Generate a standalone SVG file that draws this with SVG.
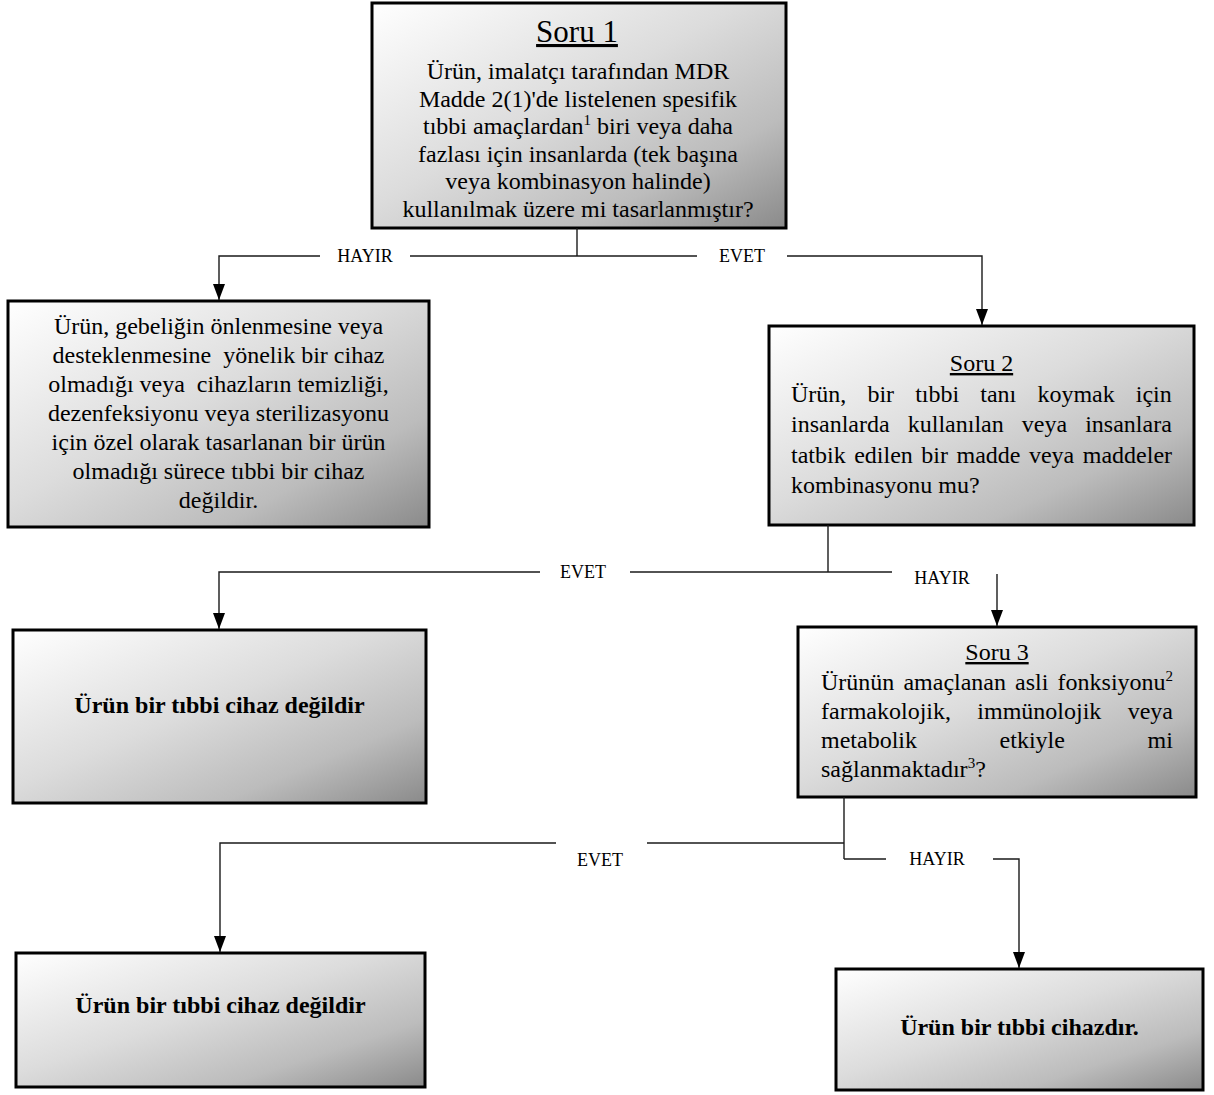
<svg xmlns="http://www.w3.org/2000/svg" width="1214" height="1095" viewBox="0 0 1214 1095">
<defs>
<linearGradient id="g" x1="0" y1="0" x2="1" y2="1">
<stop offset="0" stop-color="#ffffff"/>
<stop offset="0.45" stop-color="#dcdcdc"/>
<stop offset="0.75" stop-color="#bcbcbc"/>
<stop offset="1" stop-color="#8a8a8a"/>
</linearGradient>
<marker id="ah" viewBox="0 0 16 12" refX="16" refY="6" markerWidth="16" markerHeight="12" markerUnits="userSpaceOnUse" orient="auto">
<path d="M0,0 L16,6 L0,12 z" fill="#000"/>
</marker>
<style>
.box{stroke:#000;stroke-width:3;fill:url(#g)}
.t{font-family:"Liberation Serif","Times New Roman",serif;font-size:24px;fill:#000}
.h1{font-size:31px}
.c{text-anchor:middle}
.b{font-weight:bold}
.u{text-decoration:underline}
.lbl{font-family:"Liberation Serif","Times New Roman",serif;font-size:18px;fill:#000;text-anchor:middle}
.ln{stroke:#1a1a1a;stroke-width:1.4;fill:none}
</style>
</defs>
<rect width="1214" height="1095" fill="#fff"/>

<g id="q1">
<rect class="box" x="372" y="3" width="414" height="225"/>
<text class="t h1 c u" x="577" y="42">Soru 1</text>
<text class="t c" x="578" y="79">Ürün, imalatçı tarafından MDR</text>
<text class="t c" x="578" y="106.5">Madde 2(1)'de listelenen spesifik</text>
<text class="t c" x="578" y="134">tıbbi amaçlardan<tspan font-size="15" dy="-9">1</tspan><tspan dy="9"> biri veya daha</tspan></text>
<text class="t c" x="578" y="161.5">fazlası için insanlarda (tek başına</text>
<text class="t c" x="578" y="189">veya kombinasyon halinde)</text>
<text class="t c" x="578" y="216.5">kullanılmak üzere mi tasarlanmıştır?</text>
</g>

<g id="notdevice1">
<rect class="box" x="8" y="301" width="421" height="226"/>
<text class="t c" x="218.5" y="334">Ürün, gebeliğin önlenmesine veya</text>
<text class="t c" x="218.5" y="363" xml:space="preserve">desteklenmesine  yönelik bir cihaz</text>
<text class="t c" x="218.5" y="392" xml:space="preserve">olmadığı veya  cihazların temizliği,</text>
<text class="t c" x="218.5" y="421">dezenfeksiyonu veya sterilizasyonu</text>
<text class="t c" x="218.5" y="450">için özel olarak tasarlanan bir ürün</text>
<text class="t c" x="218.5" y="479">olmadığı sürece tıbbi bir cihaz</text>
<text class="t c" x="218.5" y="508">değildir.</text>
</g>

<g id="q2">
<rect class="box" x="769" y="326" width="425" height="199"/>
<text class="t c u" x="981.5" y="371">Soru 2</text>
<text class="t" x="791" y="402" word-spacing="15.1">Ürün, bir tıbbi tanı koymak için</text>
<text class="t" x="791" y="432" word-spacing="12.1">insanlarda kullanılan veya insanlara</text>
<text class="t" x="791" y="462.5" word-spacing="2.5">tatbik edilen bir madde veya maddeler</text>
<text class="t" x="791" y="493">kombinasyonu mu?</text>
</g>

<g id="notdevice2">
<rect class="box" x="13" y="630" width="413" height="173"/>
<text class="t c b" x="219.5" y="713">Ürün bir tıbbi cihaz değildir</text>
</g>

<g id="q3">
<rect class="box" x="798" y="627" width="398" height="170"/>
<text class="t c u" x="997" y="660">Soru 3</text>
<text class="t" x="821" y="689.5" word-spacing="3.1">Ürünün amaçlanan asli fonksiyonu<tspan font-size="15" dy="-9">2</tspan></text>
<text class="t" x="821" y="719" word-spacing="20.35">farmakolojik, immünolojik veya</text>
<text class="t" x="821" y="748" word-spacing="76.6">metabolik etkiyle mi</text>
<text class="t" x="821" y="777">sağlanmaktadır<tspan font-size="15" dy="-9">3</tspan><tspan dy="9">?</tspan></text>
</g>

<g id="notdevice3">
<rect class="box" x="16" y="953" width="409" height="134"/>
<text class="t c b" x="220.5" y="1013">Ürün bir tıbbi cihaz değildir</text>
</g>

<g id="device">
<rect class="box" x="836" y="969" width="367" height="121"/>
<text class="t c b" x="1019.5" y="1035">Ürün bir tıbbi cihazdır.</text>
</g>

<g id="connectors">
<path class="ln" d="M577,228 V256"/>
<path class="ln" d="M320,256 H219 V300" marker-end="url(#ah)"/>
<path class="ln" d="M410,256 H697"/>
<path class="ln" d="M787,256 H982 V325" marker-end="url(#ah)"/>
<path class="ln" d="M828,525 V572"/>
<path class="ln" d="M540,572 H219 V629" marker-end="url(#ah)"/>
<path class="ln" d="M630,572 H892"/>
<path class="ln" d="M997,574 V626" marker-end="url(#ah)"/>
<path class="ln" d="M844,797 V859"/>
<path class="ln" d="M556,843 H220 V952" marker-end="url(#ah)"/>
<path class="ln" d="M647,843 H844"/>
<path class="ln" d="M844,859 H886"/>
<path class="ln" d="M993,859 H1019 V968" marker-end="url(#ah)"/>
<text class="lbl" x="365" y="262">HAYIR</text>
<text class="lbl" x="742" y="262">EVET</text>
<text class="lbl" x="583" y="578">EVET</text>
<text class="lbl" x="942" y="584">HAYIR</text>
<text class="lbl" x="600" y="866">EVET</text>
<text class="lbl" x="937" y="865">HAYIR</text>
</g>
</svg>
